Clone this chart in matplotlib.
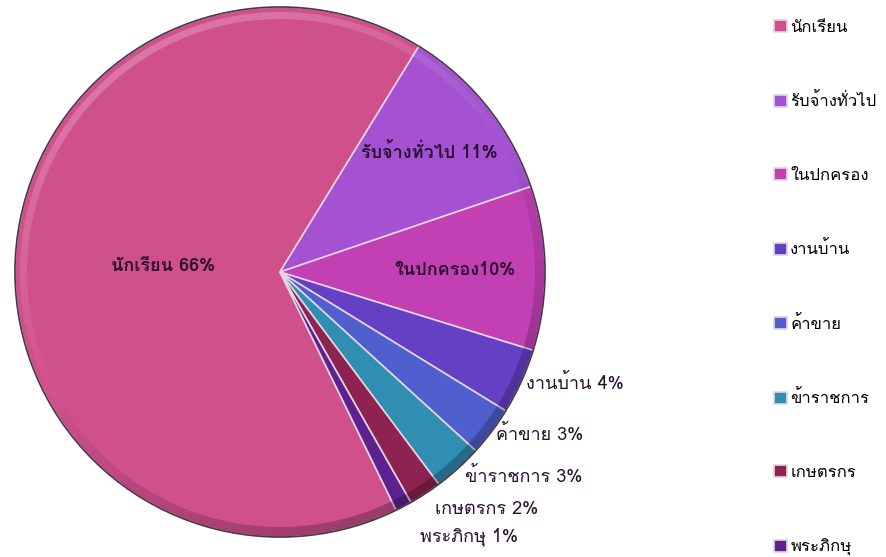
import numpy as np
import matplotlib
matplotlib.use('Agg')
import matplotlib.pyplot as plt
from matplotlib import font_manager
from matplotlib.patches import Wedge, Circle
from fontTools.ttLib import TTFont

# occupations and their shares (%)
labels = ['นักเรียน', 'รับจ้างทั่วไป', 'ในปกครอง', 'งานบ้าน', 'ค้าขาย', 'ข้าราชการ', 'เกษตรกร', 'พระภิกษุ']
values = [66, 11, 10, 4, 3, 3, 2, 1]
colors = ['#d0508c', '#a452d2', '#c23fb4', '#6440c4', '#4f5fce', '#2f8eb2', '#8e2250', '#5e2290']


def find_thai_font():
    found = []
    for f in font_manager.fontManager.ttflist:
        try:
            tt = TTFont(f.fname, fontNumber=0, lazy=True)
            cmap = tt.getBestCmap()
            if cmap and 0x0E01 in cmap:
                found.append(f.name)
        except Exception:
            pass
    return found


thai = find_thai_font()
plt.rcParams['font.family'] = list(dict.fromkeys(thai)) + ['DejaVu Sans']

fig = plt.figure(figsize=(8.86, 5.57), dpi=100)
ax = fig.add_axes([0, 0, 1, 1])

cx, cy, r = 280, 285, 265
wedges, _ = ax.pie(values, colors=colors, startangle=-64, counterclock=False,
                   center=(cx, cy), radius=r, frame=True,
                   wedgeprops=dict(edgecolor='#e4d4e4', linewidth=1.2))
ax.set_xlim(0, 886)
ax.set_ylim(0, 557)
ax.axis('off')

# bevel: light band along the rim, strongest at the upper left, dark at lower right
for w in wedges:
    t1, t2 = w.theta1, w.theta2
    steps = max(2, int((t2 - t1) / 2))
    edges = np.linspace(t1, t2, steps + 1)
    for a, b in zip(edges[:-1], edges[1:]):
        k = np.cos(np.deg2rad((a + b) / 2 - 120))
        if k > 0:
            ax.add_patch(Wedge((cx, cy), r - 5, a, b, width=7, facecolor='white',
                               alpha=0.22 * k, lw=0))
        else:
            ax.add_patch(Wedge((cx, cy), r, a, b, width=10, facecolor='black',
                               alpha=0.25 * -k, lw=0))

ax.add_patch(Circle((cx, cy), r, fill=False, edgecolor='#4a384a', linewidth=1.2))

# labels: inside for the three large slices, outside for the rest
label_text = ['%s %d%%' % (l, v) for l, v in zip(labels, values)]
label_text[2] = '%s%d%%' % (labels[2], values[2])
dist = [0.44, 0.72, 0.66, 1.02, 1.02, 1.04, 1.07, 1.13]
inside = [True, True, True, False, False, False, False, False]
for w, txt, d, ins in zip(wedges, label_text, dist, inside):
    mid = np.deg2rad((w.theta1 + w.theta2) / 2)
    x = cx + d * r * np.cos(mid)
    y = cy + d * r * np.sin(mid)
    ax.text(x, y, txt, ha='center' if ins else 'left', va='center',
            fontsize=13, color='#2a1030', fontweight='bold' if ins else 'normal')

ax.legend(wedges, labels, loc='upper left', bbox_to_anchor=(0.857, 0.991),
          frameon=False, fontsize=12, labelspacing=3.45,
          handlelength=0.75, handleheight=0.75, handletextpad=0.2)

fig.savefig('out.png', dpi=100)
